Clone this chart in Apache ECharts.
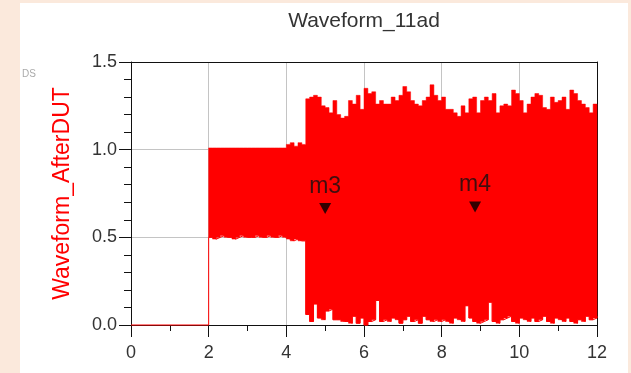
<!DOCTYPE html>
<html>
<head>
<meta charset="utf-8">
<script src="https://cdn.jsdelivr.net/npm/echarts@6/dist/echarts.min.js"></script>
<style>
  html, body { margin: 0; padding: 0; background: #fbe9dc; }
  #chart { width: 631px; height: 373px; }
</style>
</head>
<body>
<div id="chart"></div>
<script>
// time samples (ns) along the waveform envelope
const timeNs = [0,
  2.0, 2.1, 2.2, 2.3, 2.4, 2.5, 2.6, 2.7, 2.8, 2.9,
  3.0, 3.1, 3.2, 3.3, 3.4, 3.5, 3.6, 3.7, 3.8, 3.9,
  4.0, 4.1, 4.2, 4.3, 4.4, 4.5, 4.6, 4.7, 4.8, 4.9,
  5.0, 5.1, 5.2, 5.3, 5.4, 5.5, 5.6, 5.7, 5.8, 5.9,
  6.0, 6.1, 6.2, 6.3, 6.4, 6.5, 6.6, 6.7, 6.8, 6.9,
  7.0, 7.1, 7.2, 7.3, 7.4, 7.5, 7.6, 7.7, 7.8, 7.9,
  8.0, 8.1, 8.2, 8.3, 8.4, 8.5, 8.6, 8.7, 8.8, 8.9,
  9.0, 9.1, 9.2, 9.3, 9.4, 9.5, 9.6, 9.7, 9.8, 9.9,
  10.0, 10.1, 10.2, 10.3, 10.4, 10.5, 10.6, 10.7, 10.8, 10.9,
  11.0, 11.1, 11.2, 11.3, 11.4, 11.5, 11.6, 11.7, 11.8, 11.9,
  12.0];

// lower edge of the waveform
const lowerEnv = [0,
  0.50, 0.49, 0.50, 0.51, 0.50, 0.50, 0.49, 0.50, 0.51, 0.50,
  0.50, 0.50, 0.51, 0.50, 0.50, 0.51, 0.50, 0.50, 0.51, 0.50,
  0.49, 0.48, 0.49, 0.48, 0.48, 0.06, 0.02, 0.12, 0.04, 0.03,
  0.08, 0.09, 0.03, 0.03, 0.02, 0.02, 0.01, 0.05, 0.01, 0.04,
  0.00, 0.02, 0.03, 0.14, 0.02, 0.03, 0.02, 0.04, 0.03, 0.01,
  0.03, 0.05, 0.02, 0.03, 0.01, 0.05, 0.03, 0.02, 0.03, 0.02,
  0.03, 0.02, 0.01, 0.04, 0.03, 0.02, 0.11, 0.04, 0.02, 0.01,
  0.02, 0.03, 0.13, 0.02, 0.01, 0.03, 0.04, 0.05, 0.02, 0.01,
  0.04, 0.03, 0.02, 0.04, 0.02, 0.03, 0.05, 0.02, 0.01, 0.04,
  0.03, 0.02, 0.04, 0.02, 0.01, 0.03, 0.02, 0.05, 0.03, 0.04,
  0.05];

// upper edge of the waveform
const upperEnv = [0,
  1.01, 1.01, 1.01, 1.01, 1.01, 1.01, 1.01, 1.01, 1.01, 1.01,
  1.01, 1.01, 1.01, 1.01, 1.01, 1.01, 1.01, 1.01, 1.01, 1.01,
  1.03, 1.04, 1.02, 1.04, 1.03, 1.29, 1.30, 1.31, 1.30, 1.25,
  1.24, 1.21, 1.28, 1.20, 1.18, 1.19, 1.28, 1.26, 1.31, 1.23,
  1.35, 1.32, 1.33, 1.26, 1.28, 1.26, 1.26, 1.30, 1.28, 1.31,
  1.36, 1.33, 1.28, 1.26, 1.25, 1.28, 1.30, 1.37, 1.31, 1.28,
  1.30, 1.23, 1.23, 1.21, 1.19, 1.25, 1.21, 1.29, 1.30, 1.21,
  1.28, 1.30, 1.28, 1.32, 1.21, 1.25, 1.26, 1.25, 1.34, 1.32,
  1.28, 1.21, 1.26, 1.30, 1.32, 1.31, 1.24, 1.23, 1.30, 1.27,
  1.28, 1.30, 1.23, 1.34, 1.32, 1.28, 1.26, 1.24, 1.21, 1.26,
  1.27];

const markerNames = ['m3', 'm4'];
const markerTimes = [5.0, 8.86];
const markerValues = [0.665, 0.673];

const xTicks = [0, 2, 4, 6, 8, 10, 12];
const yTicks = ['0.0', '0.5', '1.0', '1.5'];

const FONT = '"Liberation Sans", Arial, sans-serif';
const RED = '#ff0000';

const chart = echarts.init(document.getElementById('chart'), null, { renderer: 'canvas' });

// lower edge drawn as a line (also gives the flat 0 segment and the edge at t=2)
const lowerData = timeNs.map((t, i) => [t, lowerEnv[i]]);

// one block per sample interval: [tStart, tEnd, low, high]
const bandData = [];
for (let i = 0; i < timeNs.length - 1; i++) {
  if (upperEnv[i] > lowerEnv[i]) {
    bandData.push([timeNs[i], timeNs[i + 1], lowerEnv[i], upperEnv[i]]);
  }
}

const markerData = markerTimes.map((t, i) => ({ value: [t, markerValues[i]], name: markerNames[i] }));

// the whole filled envelope is drawn as one stepped polygon (no seams)
function renderBand(params, api) {
  if (params.dataIndex !== 0) return null;
  const top = [];
  const bottom = [];
  bandData.forEach((d) => {
    top.push(api.coord([d[0], d[3]]), api.coord([d[1], d[3]]));
    bottom.push(api.coord([d[0], d[2]]), api.coord([d[1], d[2]]));
  });
  return {
    type: 'polygon',
    shape: { points: top.concat(bottom.reverse()) },
    style: { fill: RED, stroke: RED, lineWidth: 0.5 }
  };
}

const option = {
  backgroundColor: '#fbe9dc',
  animation: false,
  textStyle: { fontFamily: FONT },
  graphic: [
    {
      type: 'rect',
      z: -10,
      silent: true,
      shape: { x: 20, y: 3, width: 608, height: 370 },
      style: { fill: '#ffffff' }
    },
    {
      type: 'text',
      silent: true,
      style: {
        text: 'Waveform_11ad',
        x: 364, y: 21,
        textAlign: 'center', textVerticalAlign: 'middle',
        fontSize: 21, fontFamily: FONT, fill: '#333'
      }
    },
    {
      type: 'text',
      silent: true,
      style: {
        text: 'DS',
        x: 22, y: 74,
        textVerticalAlign: 'middle',
        fontSize: 10, fontFamily: FONT, fill: '#aaa'
      }
    }
  ],
  grid: { left: 131, right: 34, top: 62, bottom: 48 },
  xAxis: [
    {
      type: 'value',
      min: 0, max: 12, interval: 2,
      axisLine: { lineStyle: { color: '#111', width: 1 } },
      axisTick: { inside: false, length: 12, lineStyle: { color: '#111' } },
      minorTick: { show: true, splitNumber: 2, length: 6, lineStyle: { color: '#111' } },
      splitLine: { show: true, lineStyle: { color: '#c4c4c4', width: 1 } },
      axisLabel: {
        margin: 19, fontSize: 18, color: '#333', fontFamily: FONT,
        formatter: (v) => String(xTicks[xTicks.indexOf(v)])
      }
    },
    {
      type: 'value', position: 'top', min: 0, max: 1,
      axisLine: { show: true, onZero: false, lineStyle: { color: '#111' } },
      axisTick: { show: false }, axisLabel: { show: false }, splitLine: { show: false }
    }
  ],
  yAxis: [
    {
      type: 'value',
      min: 0, max: 1.5, interval: 0.5,
      name: 'Waveform_AfterDUT',
      nameLocation: 'middle',
      nameGap: 57,
      nameTextStyle: { color: RED, fontSize: 23, fontFamily: FONT },
      axisLine: { show: true, lineStyle: { color: '#111', width: 1 } },
      axisTick: { show: true, inside: false, length: 12, lineStyle: { color: '#111' } },
      minorTick: { show: true, splitNumber: 5, length: 7, lineStyle: { color: '#111' } },
      splitLine: { show: true, lineStyle: { color: '#c4c4c4', width: 1 } },
      axisLabel: {
        margin: 14, fontSize: 18, color: '#333', fontFamily: FONT,
        formatter: (v) => yTicks[Math.round(v / 0.5)]
      }
    },
    {
      type: 'value', position: 'right', min: 0, max: 1,
      axisLine: { show: true, onZero: false, lineStyle: { color: '#111' } },
      axisTick: { show: false }, axisLabel: { show: false }, splitLine: { show: false }
    }
  ],
  series: [
    {
      name: 'Waveform_AfterDUT',
      type: 'custom',
      renderItem: renderBand,
      encode: { x: [0, 1], y: [2, 3] },
      data: bandData,
      z: 3
    },
    {
      name: 'lower',
      type: 'line',
      step: 'end',
      clip: false,
      symbol: 'none',
      data: lowerData,
      lineStyle: { color: RED, width: 1 },
      z: 3
    },
    {
      name: 'markers',
      type: 'scatter',
      symbol: 'triangle',
      symbolRotate: 180,
      symbolSize: [12, 11],
      itemStyle: { color: '#000' },
      data: markerData,
      label: {
        show: true,
        position: 'top',
        distance: 5,
        formatter: (p) => p.name,
        color: '#111',
        fontSize: 23,
        fontFamily: FONT
      },
      z: 5
    }
  ]
};

chart.setOption(option);
</script>
</body>
</html>
